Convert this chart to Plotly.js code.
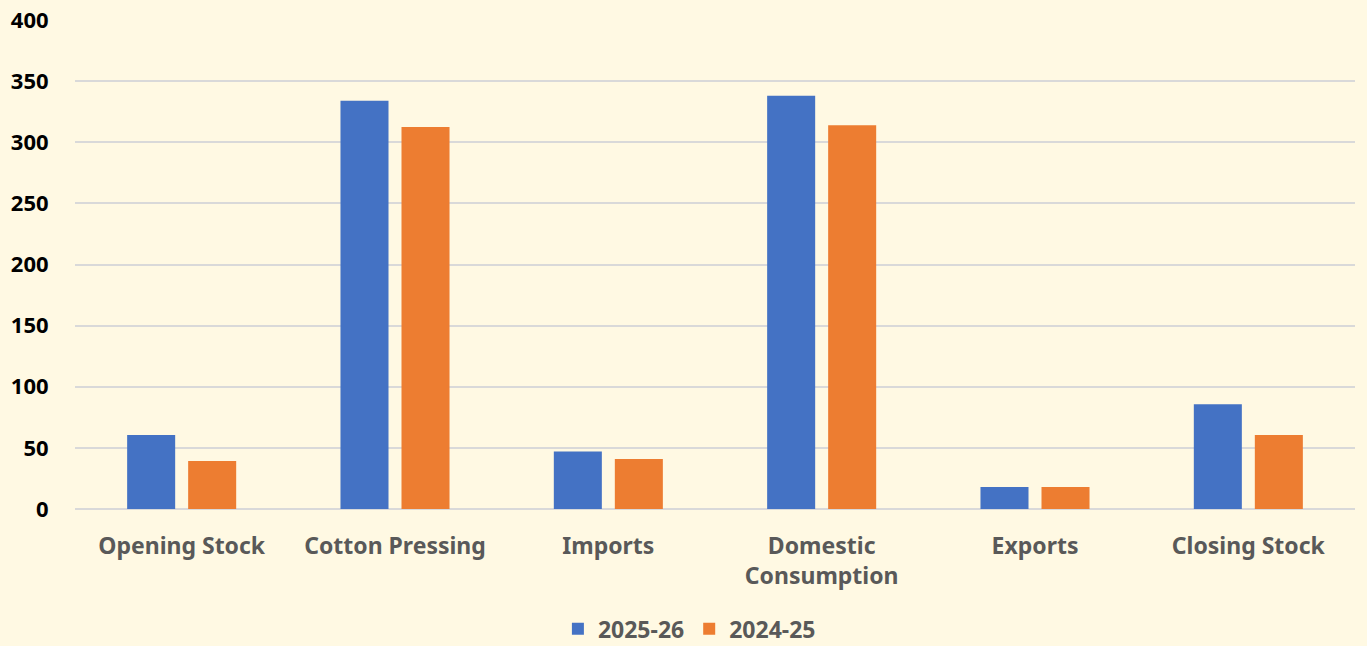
<!DOCTYPE html>
<html>
<head>
<meta charset="utf-8">
<script src="https://cdn.plot.ly/plotly-3.0.1.min.js"></script>
<style>
html,body{margin:0;padding:0;background:#FFF9E3;}
#chart{width:1367px;height:646px;}
</style>
</head>
<body>
<div id="chart"></div>
<script>
const categories = ["Opening Stock", "Cotton Pressing", "Imports", "Domestic<br>Consumption", "Exports", "Closing Stock"];
const series2025 = [60.59, 334, 47, 338, 18, 85.59];
const series2024 = [39.19, 312.4, 41, 314, 18, 60.59];
const yTicks = [0, 50, 100, 150, 200, 250, 300, 350, 400];

const fontFam = "'Noto Sans', 'Open Sans', sans-serif";
const data = [
  {type: 'bar', name: '2025-26', x: categories, y: series2025, marker: {color: '#4472C4'}, hoverinfo: 'x+y'},
  {type: 'bar', name: '2024-25', x: categories, y: series2024, marker: {color: '#ED7D31'}, hoverinfo: 'x+y'}
];
const layout = {
  width: 1367, height: 646,
  paper_bgcolor: '#FFF9E3', plot_bgcolor: '#FFF9E3',
  margin: {l: 75, r: 12, t: 20, b: 137, autoexpand: false},
  barmode: 'group', bargap: 0.428, bargroupgap: 0.213,
  font: {family: fontFam, color: '#595959'},
  xaxis: {
    showgrid: false, zeroline: false, showline: false, automargin: false,
    ticks: 'outside', ticklen: 16, tickcolor: 'rgba(0,0,0,0)',
    tickfont: {family: fontFam, size: 23, color: '#595959', weight: 'bold'}
  },
  yaxis: {
    range: [0, 400], tickvals: yTicks, ticktext: yTicks.map(String), automargin: false,
    showgrid: true, gridcolor: '#D9D9D9', gridwidth: 2,
    zeroline: true, zerolinecolor: '#D9D9D9', zerolinewidth: 2,
    ticks: 'outside', ticklen: 21, tickcolor: 'rgba(0,0,0,0)',
    tickfont: {family: fontFam, size: 22, color: '#000000', weight: 'bold'}
  },
  showlegend: true,
  legend: {
    orientation: 'h', x: 0.48, xanchor: 'center', y: -0.245, yanchor: 'middle',
    itemwidth: 30, tracegroupgap: 0,
    font: {family: fontFam, size: 23, color: '#595959', weight: 'bold'},
    bgcolor: 'rgba(0,0,0,0)'
  }
};
Plotly.newPlot('chart', data, layout, {displayModeBar: false, staticPlot: true});
</script>
</body>
</html>
